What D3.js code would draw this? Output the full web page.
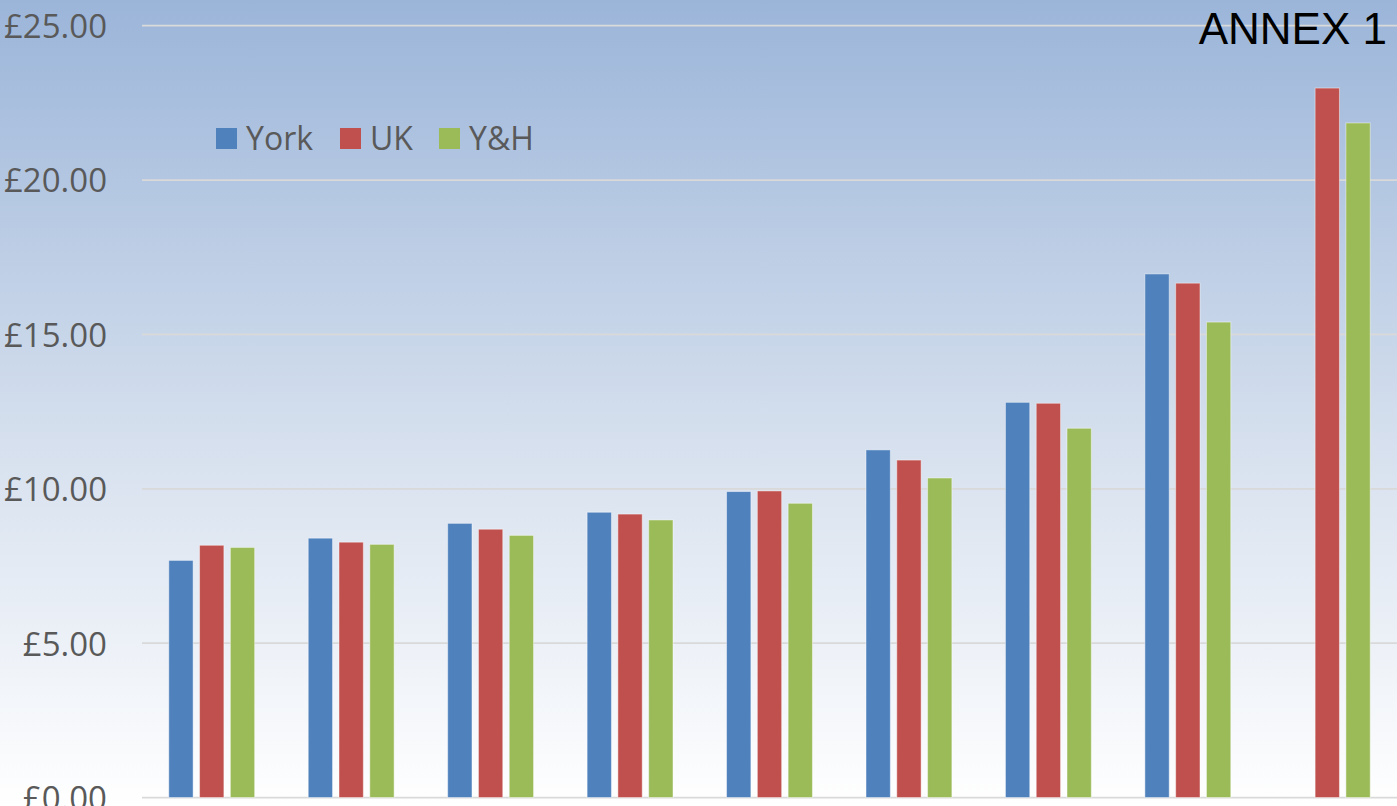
<!DOCTYPE html>
<html>
<head>
<meta charset="utf-8">
<script src="https://cdn.jsdelivr.net/npm/d3@7"></script>
<style>
  body { margin: 0; overflow: hidden; }
  svg { display: block; }
</style>
</head>
<body>
<div id="chart"></div>
<script>
// Data
const categories = ["10th", "20th", "30th", "40th", "50th", "60th", "70th", "80th", "90th"];
const series = ["York", "UK", "Y&H"];
const yorkValues = [7.68, 8.40, 8.88, 9.24, 9.91, 11.26, 12.80, 16.96, null];
const ukValues = [8.17, 8.27, 8.69, 9.18, 9.93, 10.93, 12.77, 16.66, 22.98];
const yhValues = [8.10, 8.20, 8.49, 8.99, 9.53, 10.35, 11.96, 15.40, 21.85];
const yTicks = [0, 5, 10, 15, 20, 25];
const colors = ["#4f81bd", "#c0504d", "#9bbb59"];

const W = 1397, H = 806;
const plot = { left: 142, right: 1397, top: 25.7, bottom: 797.5 };

const svg = d3.select("#chart")
  .append("svg")
  .attr("width", W)
  .attr("height", H);

// Background gradient
const grad = svg.append("defs").append("linearGradient")
  .attr("id", "bg")
  .attr("x1", 0).attr("y1", 0).attr("x2", 0).attr("y2", 1);
grad.append("stop").attr("offset", "0%").attr("stop-color", "#9bb5d9");
grad.append("stop").attr("offset", "55%").attr("stop-color", "#d6e0ee");
grad.append("stop").attr("offset", "100%").attr("stop-color", "#ffffff");

svg.append("rect")
  .attr("width", W)
  .attr("height", H)
  .attr("fill", "url(#bg)");

// Scales
const x0 = d3.scaleBand()
  .domain(categories)
  .range([plot.left, plot.right])
  .padding(0);

const x1 = d3.scaleBand()
  .domain(series)
  .range([0, x0.bandwidth()])
  .paddingInner(0.21)
  .paddingOuter(0.87);

const y = d3.scaleLinear()
  .domain([0, 25])
  .range([plot.bottom, plot.top]);

// Grid lines
svg.selectAll("line.grid")
  .data(yTicks)
  .enter()
  .append("line")
  .attr("class", "grid")
  .attr("x1", plot.left)
  .attr("x2", plot.right)
  .attr("y1", d => y(d))
  .attr("y2", d => y(d))
  .style("stroke", "#d9d9d9")
  .style("stroke-width", 1.75);

// Y axis labels
const yAxis = svg.append("g")
  .attr("transform", `translate(${plot.left - 35},0)`)
  .call(d3.axisLeft(y)
    .tickValues(yTicks)
    .tickFormat(d => "£" + d3.format(".2f")(d))
    .tickSize(0)
    .tickPadding(0));
yAxis.select(".domain").remove();
yAxis.selectAll("text")
  .style("font-family", "'Open Sans', sans-serif")
  .style("font-size", "33px")
  .style("fill", "#595959")
  .attr("dy", "0.36em");

// Bars
const rows = categories.map((c, i) => ({
  cat: c,
  vals: [yorkValues[i], ukValues[i], yhValues[i]]
}));

const groups = svg.selectAll("g.group")
  .data(rows)
  .enter()
  .append("g")
  .attr("class", "group")
  .attr("transform", d => `translate(${x0(d.cat)},0)`);

groups.selectAll("rect")
  .data(d => d.vals.map((v, j) => ({ key: series[j], value: v, color: colors[j] })).filter(e => e.value != null))
  .enter()
  .append("rect")
  .attr("x", d => x1(d.key))
  .attr("y", d => y(d.value))
  .attr("width", x1.bandwidth())
  .attr("height", d => y(0) - y(d.value))
  .style("fill", d => d.color)
  .style("stroke", "rgba(255,255,255,0.45)")
  .style("stroke-width", 1);

// Legend
const legend = svg.append("g")
  .attr("transform", "translate(216,128)");

const legendX = [0, 124, 223];
series.forEach((s, i) => {
  legend.append("rect")
    .attr("x", legendX[i])
    .attr("y", 0)
    .attr("width", 21)
    .attr("height", 21)
    .style("fill", colors[i]);
  legend.append("text")
    .attr("x", legendX[i] + 30)
    .attr("y", 10.5)
    .attr("dy", "0.36em")
    .style("font-family", "'Open Sans', sans-serif")
    .style("font-size", "32px")
    .style("fill", "#595959")
    .text(s);
});

// Annex label
svg.append("text")
  .attr("x", 1387)
  .attr("y", 43.5)
  .attr("text-anchor", "end")
  .style("font-family", "'Liberation Sans', Arial, sans-serif")
  .style("font-size", "44px")
  .style("fill", "#000")
  .text("ANNEX 1");
</script>
</body>
</html>
